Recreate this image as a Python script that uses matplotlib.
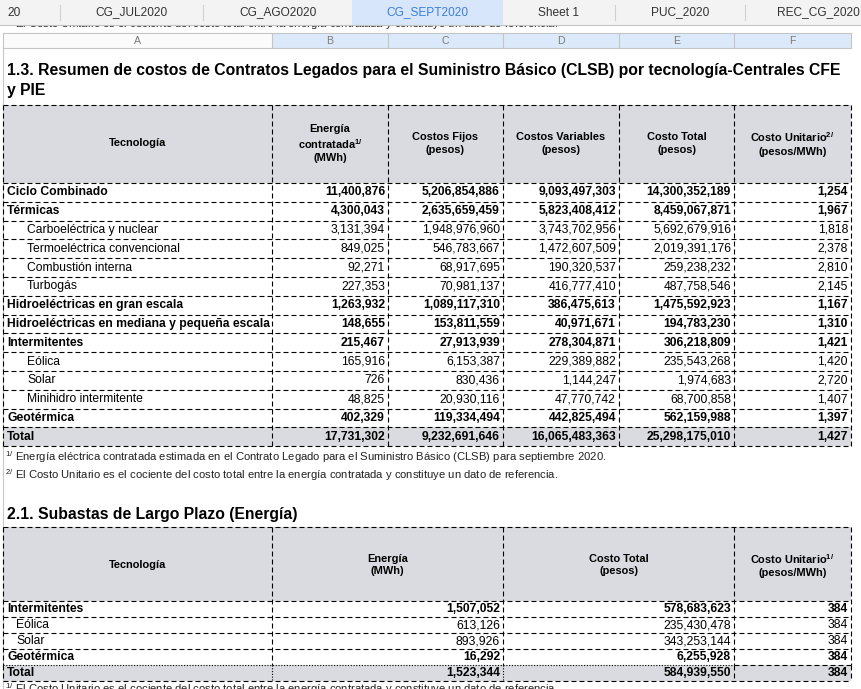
import matplotlib
matplotlib.use("Agg")
import matplotlib.pyplot as plt
from matplotlib.patches import Rectangle

plt.rcParams['font.family'] = ['Liberation Sans', 'DejaVu Sans']
plt.rcParams['mathtext.fontset'] = 'custom'
plt.rcParams['mathtext.rm'] = 'Liberation Sans'
plt.rcParams['mathtext.it'] = 'Liberation Sans:italic'
plt.rcParams['mathtext.bf'] = 'Liberation Sans:bold'

# pestañas de la hoja
tabs = ["20", "CG_JUL2020", "CG_AGO2020", "CG_SEPT2020", "Sheet 1", "PUC_2020", "REC_CG_2020"]
active_tab = "CG_SEPT2020"
col_letters = ["A", "B", "C", "D", "E", "F"]

# tabla 1.3
tech1 = ["Ciclo Combinado", "Térmicas", "Carboeléctrica y nuclear", "Termoeléctrica convencional",
         "Combustión interna", "Turbogás", "Hidroeléctricas en gran escala",
         "Hidroeléctricas en mediana y pequeña escala", "Intermitentes", "Eólica", "Solar",
         "Minihidro intermitente", "Geotérmica", "Total"]
level1 = [0, 0, 1, 1, 1, 1, 0, 0, 0, 1, 1, 1, 0, 0]
energia1 = [11400876, 4300043, 3131394, 849025, 92271, 227353, 1263932, 148655, 215467,
            165916, 726, 48825, 402329, 17731302]
fijos1 = [5206854886, 2635659459, 1948976960, 546783667, 68917695, 70981137, 1089117310,
          153811559, 27913939, 6153387, 830436, 20930116, 119334494, 9232691646]
variables1 = [9093497303, 5823408412, 3743702956, 1472607509, 190320537, 416777410, 386475613,
              40971671, 278304871, 229389882, 1144247, 47770742, 442825494, 16065483363]
total1 = [14300352189, 8459067871, 5692679916, 2019391176, 259238232, 487758546, 1475592923,
          194783230, 306218809, 235543268, 1974683, 68700858, 562159988, 25298175010]
unit1 = [1254, 1967, 1818, 2378, 2810, 2145, 1167, 1310, 1421, 1420, 2720, 1407, 1397, 1427]

# tabla 2.1
tech2 = ["Intermitentes", "Eólica", "Solar", "Geotérmica", "Total"]
level2 = [0, 1, 1, 0, 0]
energia2 = [1507052, 613126, 893926, 16292, 1523344]
costo2 = [578683623, 235430478, 343253144, 6255928, 584939550]
unit2 = [384, 384, 384, 384, 384]

W, H = 861, 689
fig = plt.figure(figsize=(W / 100, H / 100), dpi=100)
ax = fig.add_axes([0, 0, 1, 1])
ax.set_xlim(0, W)
ax.set_ylim(H, 0)
ax.axis('off')

GRAY = '#dadbe0'
DASH = (0, (4.5, 2.7))
DOT = (0, (1, 1.5))
LW = 0.8
BODY = 8.7
HEAD = 7.9
TITLE = 11.3
NOTE = 8.1


def rect(x0, y0, x1, y1, fc, ec='none', z=0, lw=0.8):
    ax.add_patch(Rectangle((x0, y0), x1 - x0, y1 - y0, facecolor=fc, edgecolor=ec, lw=lw, zorder=z))


def hdash(y, x0, x1, ls=DASH):
    ax.plot([x0, x1], [y, y], color='black', lw=LW, ls=ls, zorder=3)


def vdash(x, y0, y1, ls=DASH):
    ax.plot([x, x], [y0, y1], color='black', lw=LW, ls=ls, zorder=3)


# texto cortado bajo las pestañas (solo se ve la parte de abajo)
strip = Rectangle((0, 25.5), W, 7, transform=ax.transData, facecolor='none', edgecolor='none')
t = ax.text(5, 24.5, r"$^{2/}$ El Costo Unitario es el cociente del costo total entre la energía contratada y constituye un dato de referencia.",
            fontsize=NOTE, va='center', ha='left', color='#222222', zorder=1)
t.set_clip_path(strip)

# barra de pestañas
rect(0, 0, W, 25, '#f3f3f3', z=5)
ax.plot([0, W], [25, 25], color='#c4c4c4', lw=0.8, zorder=6)
tab_edges = [0, 60, 203, 352, 503, 615, 745, 892]
for i, name in enumerate(tabs):
    x0, x1 = tab_edges[i], tab_edges[i + 1]
    if name == active_tab:
        rect(x0, 0, x1, 25, '#d7e6fa', z=5.5)
        c = '#3d7fd8'
    else:
        c = '#333333'
    if i == 0:
        ax.text(7, 12.5, name, fontsize=8.6, ha='left', va='center', color=c, zorder=7)
    else:
        ax.text(min((x0 + x1) / 2, 818), 12.5, name, fontsize=8.6, ha='center', va='center', color=c, zorder=7)
for x in [60, 203, 615, 745]:
    ax.plot([x, x], [5, 20], color='#d0d0d0', lw=0.8, zorder=6)

# encabezado de columnas
col_x = [3, 272, 388, 503, 619, 734, 851]
rect(3, 33, 272, 48, '#fbfbfb', z=1)
rect(272, 33, 851, 48, '#dce9fa', z=1)
for x in col_x:
    ax.plot([x, x], [33, 48], color='#c5c5c5', lw=0.8, zorder=2)
ax.plot([3, 851], [33, 33], color='#c5c5c5', lw=0.8, zorder=2)
ax.plot([3, 851], [48, 48], color='#c5c5c5', lw=0.8, zorder=2)
for i, letter in enumerate(col_letters):
    ax.text((col_x[i] + col_x[i + 1]) / 2, 40.5, letter, fontsize=7.6, ha='center', va='center', color='#7a7a7a')
ax.plot([3, 3], [48, H], color='#c8c8c8', lw=0.8, zorder=1)

# titulo tabla 1
ax.text(7, 71, "1.3. Resumen de costos de Contratos Legados para el Suministro Básico (CLSB) por tecnología-Centrales CFE",
        fontsize=TITLE, fontweight='bold', va='center', ha='left')
ax.text(7, 90.5, "y PIE", fontsize=TITLE, fontweight='bold', va='center', ha='left')

# tabla 1
hy0, hy1 = 105, 183
rh = 18.8
n1 = len(tech1)
rect(3, hy0, 851, hy1, GRAY)
rect(3, hy1 + rh * (n1 - 1), 851, hy1 + rh * n1, GRAY)
headers1 = ["Tecnología",
            "Energía\ncontratada$^{\\mathbf{1/}}$\n(MWh)",
            "Costos Fijos\n(pesos)",
            "Costos Variables\n(pesos)",
            "Costo Total\n(pesos)",
            "Costo Unitario$^{\\mathbf{2/}}$\n(pesos/MWh)"]
for i, h in enumerate(headers1):
    ax.text((col_x[i] + col_x[i + 1]) / 2, 143.5, h, fontsize=HEAD, fontweight='bold',
            ha='center', va='center', linespacing=1.3)
hdash(hy0, 3, 851)
for k in range(n1 + 1):
    hdash(hy1 + rh * k, 3, 851)
for x in col_x:
    vdash(x, hy0, hy1 + rh * n1)

cols1 = [energia1, fijos1, variables1, total1, unit1]
for k in range(n1):
    yc = hy1 + rh * k + rh / 2
    bold = level1[k] == 0
    fw = 'bold' if bold else 'normal'
    ax.text(7 if bold else 27, yc, tech1[k], fontsize=BODY, fontweight=fw, ha='left', va='center', zorder=4)
    for j, vals in enumerate(cols1):
        ax.text(col_x[j + 2] - 3, yc, f"{vals[k]:,}", fontsize=BODY, fontweight=fw,
                ha='right', va='center', zorder=4)

# notas
ax.text(5, 457, r"$^{1/}$ Energía eléctrica contratada estimada en el Contrato Legado para el Suministro Básico (CLSB) para septiembre 2020.",
        fontsize=NOTE, va='center', ha='left', color='#222222')
ax.text(5, 475, r"$^{2/}$ El Costo Unitario es el cociente del costo total entre la energía contratada y constituye un dato de referencia.",
        fontsize=NOTE, va='center', ha='left', color='#222222')

# titulo tabla 2
ax.text(7, 514.5, "2.1. Subastas de Largo Plazo (Energía)", fontsize=TITLE, fontweight='bold', va='center', ha='left')

# tabla 2
col2 = [3, 272, 503, 734, 851]
gy0, gy1 = 527, 601
rh2 = 16
n2 = len(tech2)
rect(3, gy0, 851, gy1, GRAY)
rect(3, gy1 + rh2 * (n2 - 1), 851, gy1 + rh2 * n2, GRAY)
headers2 = ["Tecnología", "Energía\n(MWh)", "Costo Total\n(pesos)", "Costo Unitario$^{\\mathbf{1/}}$\n(pesos/MWh)"]
for i, h in enumerate(headers2):
    ax.text((col2[i] + col2[i + 1]) / 2, 565, h, fontsize=HEAD, fontweight='bold',
            ha='center', va='center', linespacing=1.3)
hdash(gy0, 3, 851)
for k in range(n2 + 1):
    ytop = gy1 + rh2 * k
    if k == n2 - 1:
        hdash(ytop, 3, 734, ls=DOT)
        hdash(ytop, 734, 851)
    else:
        hdash(ytop, 3, 851)
for x in col2:
    vdash(x, gy0, gy1 + rh2 * (n2 - 1))
    if x in (272, 503):
        vdash(x, gy1 + rh2 * (n2 - 1), gy1 + rh2 * n2, ls=DOT)
    else:
        vdash(x, gy1 + rh2 * (n2 - 1), gy1 + rh2 * n2)

cols2 = [energia2, costo2, unit2]
for k in range(n2):
    yc = gy1 + rh2 * k + rh2 / 2
    bold = level2[k] == 0
    fw = 'bold' if bold else 'normal'
    ax.text(7 if bold else 16, yc, tech2[k], fontsize=BODY, fontweight=fw, ha='left', va='center', zorder=4)
    for j, vals in enumerate(cols2):
        ax.text(col2[j + 2] - 3, yc, f"{vals[k]:,}", fontsize=BODY, fontweight=fw,
                ha='right', va='center', zorder=4)

# nota cortada al final (como en la captura)
ax.text(5, 689, r"$^{1/}$ El Costo Unitario es el cociente del costo total entre la energía contratada y constituye un dato de referencia.",
        fontsize=NOTE, va='center', ha='left', color='#222222')

fig.savefig("out.png", dpi=100)
